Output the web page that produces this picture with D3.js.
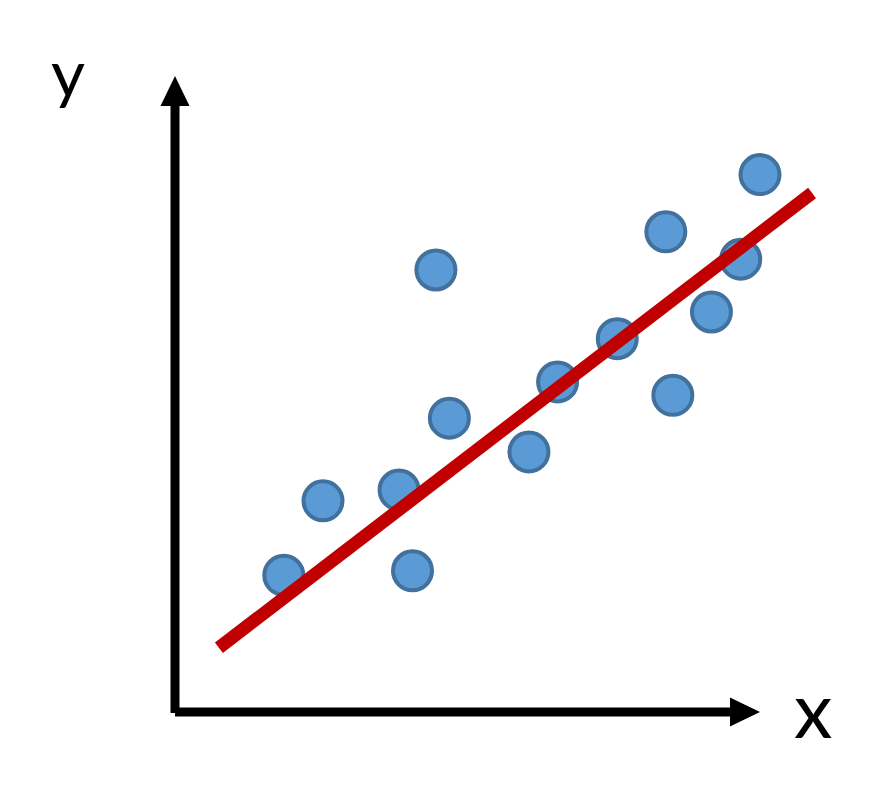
<!DOCTYPE html>
<html>
<head>
<meta charset="utf-8">
<script src="https://cdn.jsdelivr.net/npm/d3@7"></script>
<style>
  html, body { margin: 0; padding: 0; background: #fff; }
  svg { display: block; }
</style>
</head>
<body>
<svg id="chart" width="878" height="811"></svg>
<script>
// ---- data ----
const xValues = [1.86, 2.53, 3.83, 4.06, 4.46, 4.69, 6.05, 6.54, 7.56, 8.39, 8.51, 9.17, 9.67, 10.0];
const yValues = [2.15, 3.32, 3.49, 2.22, 6.95, 4.62, 4.09, 5.19, 5.87, 7.55, 4.98, 6.29, 7.12, 8.45];
const fitX = [0.75, 10.89];
const fitY = [1.01, 8.16];
const axisLabels = ["x", "y"];

// ---- layout ----
const svg = d3.select("#chart");
const origin = { x: 175, y: 712 };
const xScale = d3.scaleLinear().domain([0, 10]).range([origin.x, 760]);
const yScale = d3.scaleLinear().domain([0, 10]).range([origin.y, 76]);

// axes with arrowheads
const axisColor = "#000";
const arrowLen = 30, arrowHalf = 14.5, axisW = 9;

// y axis
svg.append("line")
  .attr("x1", xScale(0)).attr("y1", yScale(0) + 1)
  .attr("x2", xScale(0)).attr("y2", yScale(10) + arrowLen - 1)
  .attr("stroke", axisColor).attr("stroke-width", axisW);
svg.append("path")
  .attr("d", `M${xScale(0)},${yScale(10)} L${xScale(0) - arrowHalf},${yScale(10) + arrowLen} L${xScale(0) + arrowHalf},${yScale(10) + arrowLen} Z`)
  .attr("fill", axisColor);

// x axis
svg.append("line")
  .attr("x1", xScale(0)).attr("y1", yScale(0))
  .attr("x2", xScale(10) - arrowLen + 1).attr("y2", yScale(0))
  .attr("stroke", axisColor).attr("stroke-width", axisW);
svg.append("path")
  .attr("d", `M${xScale(10)},${yScale(0)} L${xScale(10) - arrowLen},${yScale(0) - arrowHalf} L${xScale(10) - arrowLen},${yScale(0) + arrowHalf} Z`)
  .attr("fill", axisColor);

// axis labels
svg.append("text")
  .attr("x", 794).attr("y", 738)
  .attr("font-family", "Lato, 'Open Sans', sans-serif")
  .attr("font-size", 77)
  .attr("fill", "#000")
  .text(axisLabels[0]);
svg.append("text")
  .attr("x", 51).attr("y", 97)
  .attr("font-family", "Lato, 'Open Sans', sans-serif")
  .attr("font-size", 66)
  .attr("fill", "#000")
  .text(axisLabels[1]);

// points
const pts = xValues.map((x, i) => ({ x, y: yValues[i] }));
svg.append("g").selectAll("circle")
  .data(pts)
  .join("circle")
  .attr("cx", d => xScale(d.x))
  .attr("cy", d => yScale(d.y))
  .attr("r", 19.5)
  .attr("fill", "#5B9BD5")
  .attr("stroke", "#41719C")
  .attr("stroke-width", 4);

// fit line
svg.append("line")
  .attr("x1", xScale(fitX[0])).attr("y1", yScale(fitY[0]))
  .attr("x2", xScale(fitX[1])).attr("y2", yScale(fitY[1]))
  .attr("stroke", "#C00000")
  .attr("stroke-width", 13)
  .attr("stroke-linecap", "butt");
</script>
</body>
</html>
